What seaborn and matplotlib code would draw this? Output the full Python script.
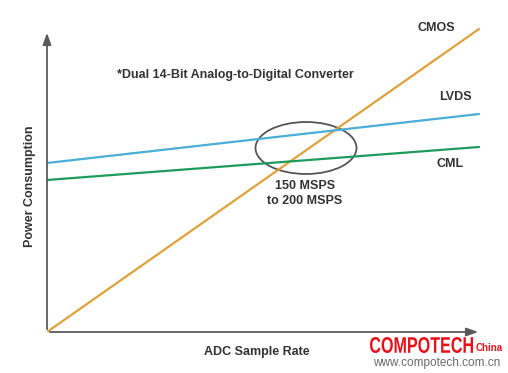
import matplotlib
matplotlib.use("Agg")
import matplotlib.pyplot as plt
import seaborn as sns
import pandas as pd
from matplotlib.patches import Ellipse, PathPatch
from matplotlib.textpath import TextPath
from matplotlib.font_manager import FontProperties
from matplotlib.transforms import Affine2D

# Data (arbitrary units; x = sample rate, y = power consumption)
sample_rate = [0, 432]
cmos = [0, 303]
lvds = [169, 218]
cml = [152, 185]
series_names = ["CMOS", "LVDS", "CML"]
colors = {"CMOS": "#E0A03A", "LVDS": "#4AAED6", "CML": "#1E9B5C"}

df = pd.concat([
    pd.DataFrame({"rate": sample_rate, "power": cmos, "interface": "CMOS"}),
    pd.DataFrame({"rate": sample_rate, "power": lvds, "interface": "LVDS"}),
    pd.DataFrame({"rate": sample_rate, "power": cml, "interface": "CML"}),
])

sns.set_style("white")
plt.rcParams['font.family'] = ['Liberation Sans', 'DejaVu Sans']

W, H = 508, 373
fig = plt.figure(figsize=(W / 100, H / 100), dpi=100)
x0, x1, ytop, ybot = 47, 485, 22, 332
ax = fig.add_axes([x0 / W, (H - ybot) / H, (x1 - x0) / W, (ybot - ytop) / H])
sns.lineplot(data=df, x="rate", y="power", hue="interface", palette=colors,
             linewidth=1.6, legend=False, ax=ax)
ax.set_xlim(0, x1 - x0)
ax.set_ylim(0, ybot - ytop)
ax.set_xticks([]); ax.set_yticks([])
for s in ax.spines.values():
    s.set_visible(False)
ax.set_xlabel(""); ax.set_ylabel("")

def px(x, y):
    return (x - x0, ybot - y)

axis_col = "#5a5a5a"
ax.annotate("", xy=px(47, 30), xytext=px(47, 332),
            arrowprops=dict(arrowstyle="-|>,head_length=0.7,head_width=0.25", color=axis_col, lw=1.3),
            annotation_clip=False)
ax.annotate("", xy=px(481, 332), xytext=px(47, 332),
            arrowprops=dict(arrowstyle="-|>,head_length=0.7,head_width=0.25", color=axis_col, lw=1.3),
            annotation_clip=False)

ax.add_patch(Ellipse(px(306, 148), 101, 52, fill=False, edgecolor="#555555", lw=1.3))

tc = "#333333"
fs = 9
ax.text(*px(305, 186), "150 MSPS", ha="center", va="center", fontsize=fs, fontweight="bold", color=tc)
ax.text(*px(305, 201), "to 200 MSPS", ha="center", va="center", fontsize=fs, fontweight="bold", color=tc)
ax.text(*px(117, 75), "*Dual 14-Bit Analog-to-Digital Converter", ha="left", va="center",
        fontsize=fs, fontweight="bold", color=tc)
ax.text(*px(436, 28), "CMOS", ha="center", va="center", fontsize=fs, fontweight="bold", color=tc)
ax.text(*px(455, 97), "LVDS", ha="center", va="center", fontsize=fs, fontweight="bold", color=tc)
ax.text(*px(450, 164), "CML", ha="center", va="center", fontsize=fs, fontweight="bold", color=tc)
ax.text(*px(257, 352), "ADC Sample Rate", ha="center", va="center", fontsize=fs, fontweight="bold", color=tc)
ax.text(*px(30, 186), "Power Consumption", ha="center", va="center", rotation=90,
        fontsize=fs, fontweight="bold", color=tc)

# Watermark: condensed "COMPOTECH" drawn as a scaled text path (in pixel units)
fp = FontProperties(family="Liberation Sans", weight="bold")
tp = TextPath((0, 0), "COMPOTECH", size=100, prop=fp)
bb = tp.get_extents()
target_w, target_h = 103, 16
sx = target_w / bb.width
sy = target_h / bb.height
tr = Affine2D().translate(-bb.x0, -bb.y0).scale(sx, sy).translate(370 - x0, ybot - 353)
ax.add_patch(PathPatch(tr.transform_path(tp), facecolor="#E8101A", edgecolor="none", clip_on=False))
ax.text(*px(476, 348), "China", ha="left", va="center", fontsize=7, fontweight="bold",
        color="#E8101A")
ax.text(*px(437, 363), "www.compotech.com.cn", ha="center", va="center", fontsize=8.5,
        color="#6a6a6a")

fig.savefig("out.png", dpi=100)
